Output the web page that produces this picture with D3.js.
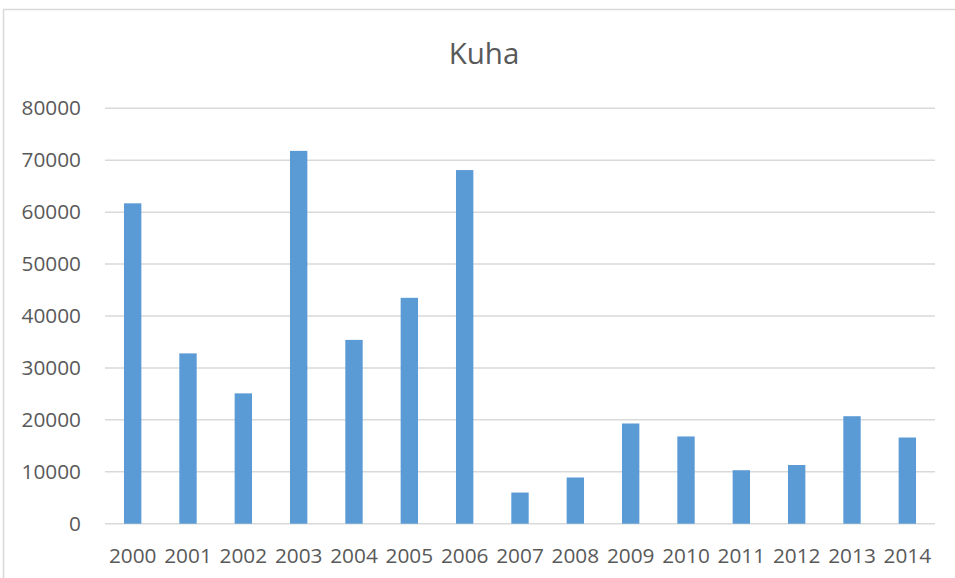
<!DOCTYPE html>
<html>
<head>
<meta charset="utf-8">
<script src="https://cdn.jsdelivr.net/npm/d3@7"></script>
<style>
  body { margin: 0; background: #ffffff; }
  text { font-family: "Open Sans", sans-serif; fill: #595959; }
</style>
</head>
<body>
<div id="chart"></div>
<script>
// Data
var years = ["2000", "2001", "2002", "2003", "2004", "2005", "2006", "2007",
  "2008", "2009", "2010", "2011", "2012", "2013", "2014"];
var catches = [61700, 32800, 25100, 71800, 35400, 43500, 68100, 6000,
  8900, 19300, 16800, 10300, 11300, 20700, 16600];
var yTicks = [0, 10000, 20000, 30000, 40000, 50000, 60000, 70000, 80000];

// Setting width and height
var width = 955;
var height = 578;

// Plot area edges
var plotLeft = 105;
var plotRight = 935;
var plotTop = 108.3;
var plotBottom = 523.7;

var svg = d3
  .select("#chart")
  .append("svg")
  .attr("width", width)
  .attr("height", height);

// Outer chart border
svg
  .append("rect")
  .attr("x", 3.5)
  .attr("y", 9.5)
  .attr("width", 980)
  .attr("height", 620)
  .attr("fill", "#ffffff")
  .attr("stroke", "#d9d9d9")
  .attr("stroke-width", 1.5);

// Title
svg
  .append("text")
  .attr("x", 484)
  .attr("y", 63.5)
  .attr("text-anchor", "middle")
  .attr("font-size", 29.5)
  .text("Kuha");

// Scales
var xScale = d3
  .scaleBand()
  .domain(years)
  .range([plotLeft, plotRight])
  .paddingInner(0.686)
  .paddingOuter(0.343);

var yScale = d3
  .scaleLinear()
  .domain([0, 80000])
  .range([plotBottom, plotTop]);

// Gridlines
svg
  .append("g")
  .selectAll("line")
  .data(yTicks)
  .enter()
  .append("line")
  .attr("x1", plotLeft)
  .attr("x2", plotRight)
  .attr("y1", function(d) { return yScale(d); })
  .attr("y2", function(d) { return yScale(d); })
  .attr("stroke", "#d9d9d9")
  .attr("stroke-width", 1.5);

// Y axis labels
var yAxis = d3.axisLeft(yScale)
  .tickValues(yTicks)
  .tickSize(0)
  .tickPadding(0)
  .tickFormat(d3.format("d"));

var yAxisG = svg
  .append("g")
  .attr("transform", "translate(81,0)")
  .call(yAxis);
yAxisG.select(".domain").remove();
yAxisG.selectAll("text")
  .attr("font-size", 20.8)
  .attr("font-family", null)
  .style("fill", "#595959");

// Bars
svg
  .append("g")
  .selectAll("rect")
  .data(catches)
  .enter()
  .append("rect")
  .attr("x", function(d, i) { return xScale(years[i]); })
  .attr("width", xScale.bandwidth())
  .attr("y", function(d) { return yScale(d); })
  .attr("height", function(d) { return plotBottom - yScale(d); })
  .attr("fill", "#5b9bd5");

// X axis labels
var xAxis = d3.axisBottom(xScale)
  .tickSize(0)
  .tickPadding(0);

var xAxisG = svg
  .append("g")
  .attr("transform", "translate(0,548)")
  .call(xAxis);
xAxisG.select(".domain").remove();
xAxisG.selectAll("text")
  .attr("font-size", 20.8)
  .attr("font-family", null)
  .style("fill", "#595959");
</script>
</body>
</html>
